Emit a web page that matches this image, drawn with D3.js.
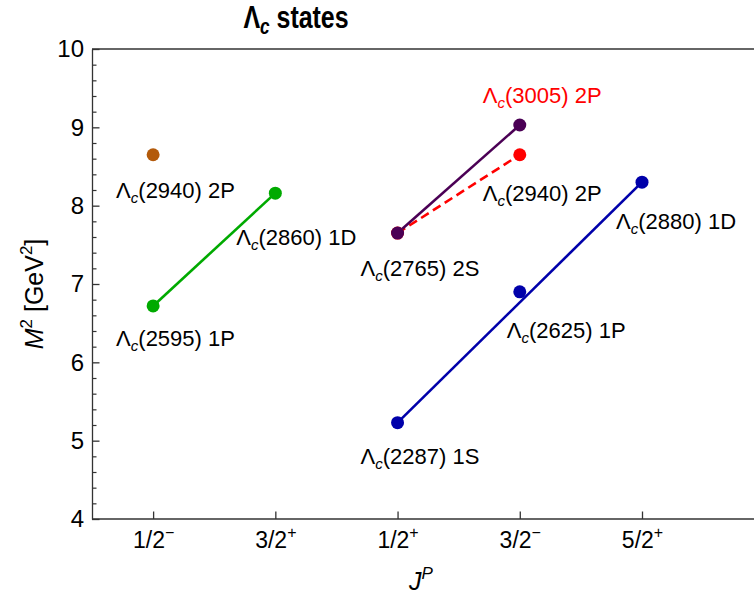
<!DOCTYPE html>
<html><head><meta charset="utf-8">
<script src="https://cdn.jsdelivr.net/npm/d3@7"></script>
<style>body{margin:0;background:#fff}svg{display:block}text{font-family:"Liberation Sans",Arial,sans-serif}</style>
</head><body><svg id="c" width="754" height="602"></svg>
<script>
// ---- data ----
const categories = [1, 2, 3, 4, 5];
const tickBase = ["1/2", "3/2", "1/2", "3/2", "5/2"];
const tickParity = ["\u2212", "+", "+", "\u2212", "+"];
const yTicks = [4, 5, 6, 7, 8, 9, 10];

const greenX = [1, 2], greenY = [6.72, 8.16];
const brownX = [1], brownY = [8.65];
const purpleX = [3, 4], purpleY = [7.65, 9.03];
const redX = [3, 4], redY = [7.65, 8.65];
const blueX = [3, 4, 5], blueY = [5.23, 6.90, 8.30];

const labelNames = ["2940", "2595", "2860", "2765", "2287", "2625", "2880", "3005", "2940"];
const labelWaves = ["2P", "1P", "1D", "2S", "1S", "1P", "1D", "2P", "2P"];
const labelX = [1, 1, 2, 3, 3, 4, 5, 4, 4];
const labelY = [8.65, 6.72, 8.16, 7.65, 5.23, 6.90, 8.30, 9.03, 8.65];

// ---- style / layout ----
const labelColor = ["#000","#000","#000","#000","#000","#000","#000","#ff0000","#000"];
const labelDx = [-37, -37, -39, -37, -37, -13, -26, -37, -37];
const labelDy = [43, 40, 52, 43, 41, 46, 47, -22, 46];

const svg = d3.select("#c");
const x = d3.scaleLinear().domain([0.5, 5.9]).range([92, 752]);
const y = d3.scaleLinear().domain([4, 10]).range([519, 49]);
const axisCol = "#333";

// frame top
svg.append("line").attr("x1", 92).attr("x2", 754).attr("y1", 49).attr("y2", 49)
  .attr("stroke", axisCol).attr("stroke-width", 1.3);

// y axis
const minor = d3.range(40, 101, 2).map(v => v / 10).filter(v => !yTicks.includes(v));
const gyMinor = svg.append("g").attr("transform", "translate(92,0)")
  .call(d3.axisLeft(y).tickValues(minor).tickSize(-4.5).tickFormat(""));
gyMinor.select(".domain").remove();
gyMinor.selectAll("line").attr("stroke", axisCol).attr("stroke-width", 1.2);
const gy = svg.append("g").attr("transform", "translate(92,0)")
  .call(d3.axisLeft(y).tickValues(yTicks).tickSizeInner(-7.5).tickSizeOuter(0).tickPadding(8).tickFormat(d3.format("d")));
gy.select(".domain").attr("stroke", axisCol).attr("stroke-width", 1.3);
gy.selectAll("line").attr("stroke", axisCol).attr("stroke-width", 1.3);
gy.selectAll("text").attr("font-size", 24).attr("fill", "#000").attr("font-family", "Liberation Sans, Arial, sans-serif");

// x axis
const gx = svg.append("g").attr("transform", "translate(0,519)")
  .call(d3.axisBottom(x).tickValues(categories).tickSizeInner(-7.5).tickSizeOuter(0).tickFormat(""));
gx.select(".domain").attr("stroke", axisCol).attr("stroke-width", 1.3).attr("d", "M92,0H760");
gx.selectAll("line").attr("stroke", axisCol).attr("stroke-width", 1.3);
gx.selectAll(".tick").each(function (d, i) {
  const t = d3.select(this).append("text").attr("y", 29).attr("dy", 0).attr("text-anchor", "middle")
    .attr("font-size", 23).attr("fill", "#000").attr("font-family", "Liberation Sans, Arial, sans-serif");
  t.append("tspan").text(tickBase[i]);
  t.append("tspan").attr("font-size", 16).attr("dy", -10).text(tickParity[i]);
});

// axis titles
const xt = svg.append("text").attr("x", 421).attr("y", 590).attr("text-anchor", "middle").attr("font-size", 25);
xt.append("tspan").attr("font-style", "italic").text("J");
xt.append("tspan").attr("font-style", "italic").attr("font-size", 17).attr("dy", -11).text("P");

const yt = svg.append("text").attr("transform", "translate(43,294) rotate(-90)").attr("text-anchor", "middle").attr("font-size", 25);
yt.append("tspan").attr("font-style", "italic").text("M");
yt.append("tspan").attr("font-size", 17).attr("dy", -11).text("2");
yt.append("tspan").attr("dy", 11).text(" [GeV");
yt.append("tspan").attr("font-size", 17).attr("dy", -11).text("2");
yt.append("tspan").attr("dy", 11).text("]");

// title (slightly condensed)
const tt = svg.append("text").attr("transform", "translate(296,28) scale(0.78,1)").attr("text-anchor", "middle")
  .attr("font-size", 32).attr("font-weight", "bold");
tt.append("tspan").text("\u039B");
tt.append("tspan").attr("font-style", "italic").attr("font-size", 22).attr("dy", 6).text("c");
tt.append("tspan").attr("dy", -6).text(" states");

// lines
const line = d3.line().x(d => x(d[0])).y(d => y(d[1]));
function drawLine(xs, ys, col, dash) {
  svg.append("path").datum(xs.map((v, i) => [v, ys[i]])).attr("d", line)
    .attr("fill", "none").attr("stroke", col).attr("stroke-width", 2.6)
    .attr("stroke-dasharray", dash || null);
}
function drawPts(xs, ys, col) {
  svg.append("g").selectAll("circle").data(xs.map((v, i) => [v, ys[i]])).join("circle")
    .attr("cx", d => x(d[0])).attr("cy", d => y(d[1])).attr("r", 6.5).attr("fill", col);
}
drawLine(greenX, greenY, "#00aa00");
drawLine([blueX[0], blueX[2]], [blueY[0], blueY[2]], "#0000aa");
drawLine(redX, redY, "#ff0000", "9,5");
drawLine(purpleX, purpleY, "#4b0055");
drawPts(redX, redY, "#ff0000");
drawPts(purpleX, purpleY, "#4b0055");
drawPts(greenX, greenY, "#00aa00");
drawPts(brownX, brownY, "#b35a0b");
drawPts(blueX, blueY, "#0000aa");

// labels
labelNames.forEach((n, i) => {
  const t = svg.append("text").attr("x", x(labelX[i]) + labelDx[i]).attr("y", y(labelY[i]) + labelDy[i])
    .attr("font-size", 22).attr("fill", labelColor[i]);
  t.append("tspan").text("\u039B");
  t.append("tspan").attr("font-style", "italic").attr("font-size", 15).attr("dy", 5).text("c");
  t.append("tspan").attr("dy", -5).text("(" + n + ") " + labelWaves[i]);
});
</script></body></html>
